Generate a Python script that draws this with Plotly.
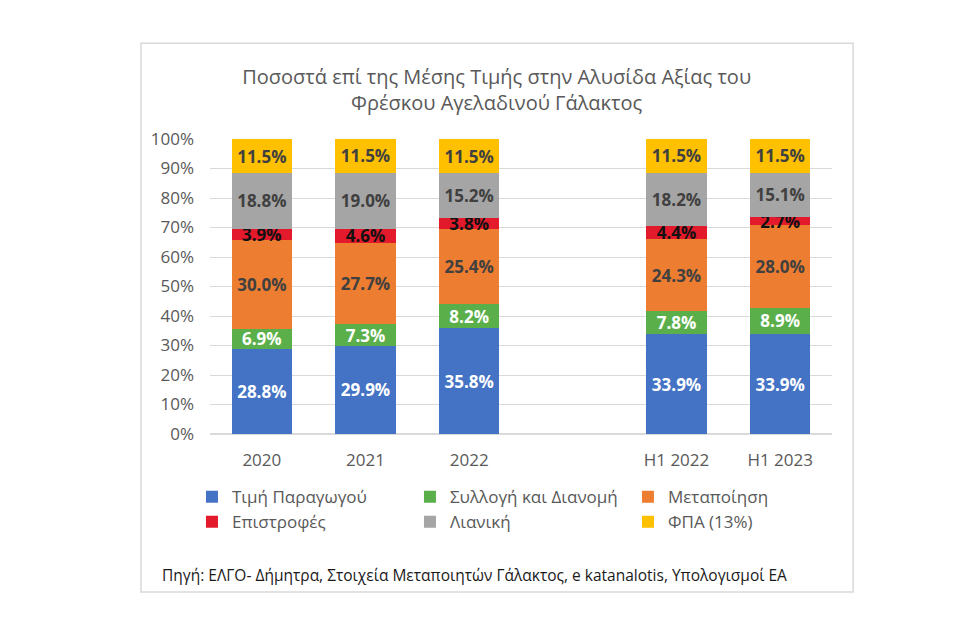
import plotly.graph_objects as go

# categories (the blank one makes the gap between the yearly and H1 bars)
categories = ["2020", "2021", "2022", " ", "H1 2022", "H1 2023"]

producer = [28.8, 29.9, 35.8, None, 33.9, 33.9]
collection = [6.9, 7.3, 8.2, None, 7.8, 8.9]
processing = [30.0, 27.7, 25.4, None, 24.3, 28.0]
returns = [3.9, 4.6, 3.8, None, 4.4, 2.7]
retail = [18.8, 19.0, 15.2, None, 18.2, 15.1]
vat = [11.5, 11.5, 11.5, None, 11.5, 11.5]

series = [
    ("Τιμή Παραγωγού", producer, "#4472C4", "white"),
    ("Συλλογή και Διανομή", collection, "#5BAF4B", "white"),
    ("Μεταποίηση", processing, "#ED7D31", "#404040"),
    ("Επιστροφές", returns, "#E31A2C", "#111111"),
    ("Λιανική", retail, "#A5A5A5", "#404040"),
    ("ΦΠΑ (13%)", vat, "#FFC000", "#404040"),
]

FONT = "Open Sans"
GREY = "#595959"

fig = go.Figure()
for name, values, color, text_color in series:
    fig.add_trace(go.Bar(
        x=categories, y=values, name=name,
        marker=dict(color=color, line=dict(width=0)),
        texttemplate="%{y:.1f}%", textposition="inside",
        insidetextanchor="middle", textangle=0,
        textfont=dict(family=FONT, size=17, color=text_color, weight="bold"),
        hoverinfo="skip",
    ))

fig.update_layout(
    width=960, height=620,
    barmode="stack", bargap=0.42,
    paper_bgcolor="white", plot_bgcolor="white",
    margin=dict(l=202, r=136, t=131, b=194),
    font=dict(family=FONT, color=GREY),
    uniformtext=dict(minsize=17, mode="show"),
    title=dict(
        text="Ποσοστά επί της Μέσης Τιμής στην Αλυσίδα Αξίας του<br>Φρέσκου Αγελαδινού Γάλακτος",
        x=0.509, xanchor="center", y=0.878, yanchor="middle",
        font=dict(family=FONT, size=20, color=GREY),
    ),
    legend=dict(
        orientation="h", traceorder="normal",
        x=-0.029, xanchor="left", y=-0.153, yanchor="top",
        entrywidth=173, itemwidth=30,
        font=dict(family=FONT, size=17, color=GREY),
    ),
    showlegend=True,
)

fig.update_yaxes(
    range=[0, 100], dtick=10, ticksuffix="%",
    showgrid=True, gridcolor="#D9D9D9", gridwidth=1,
    zeroline=True, zerolinecolor="#D9D9D9",
    tickfont=dict(family=FONT, size=17, color=GREY),
    ticks="", ticklabelstandoff=15,
)
fig.update_xaxes(
    type="category", showline=False, ticks="",
    tickfont=dict(family=FONT, size=17, color=GREY),
    ticklabelstandoff=14,
)

# source note
fig.add_annotation(
    text="Πηγή: ΕΛΓΟ- Δήμητρα, Στοιχεία Μεταποιητών Γάλακτος, e katanalotis, Υπολογισμοί ΕΑ",
    xref="paper", yref="paper", x=-0.08, y=-0.478,
    xanchor="left", yanchor="middle", showarrow=False,
    font=dict(family=FONT, size=15.5, color="#1A1A1A"),
)

# chart border
fig.add_shape(
    type="rect", xref="paper", yref="paper",
    x0=-0.111, x1=1.034, y0=-0.536, y1=1.325,
    line=dict(color="#D9D9D9", width=1.5), layer="below",
)

fig.write_html("out.html")
